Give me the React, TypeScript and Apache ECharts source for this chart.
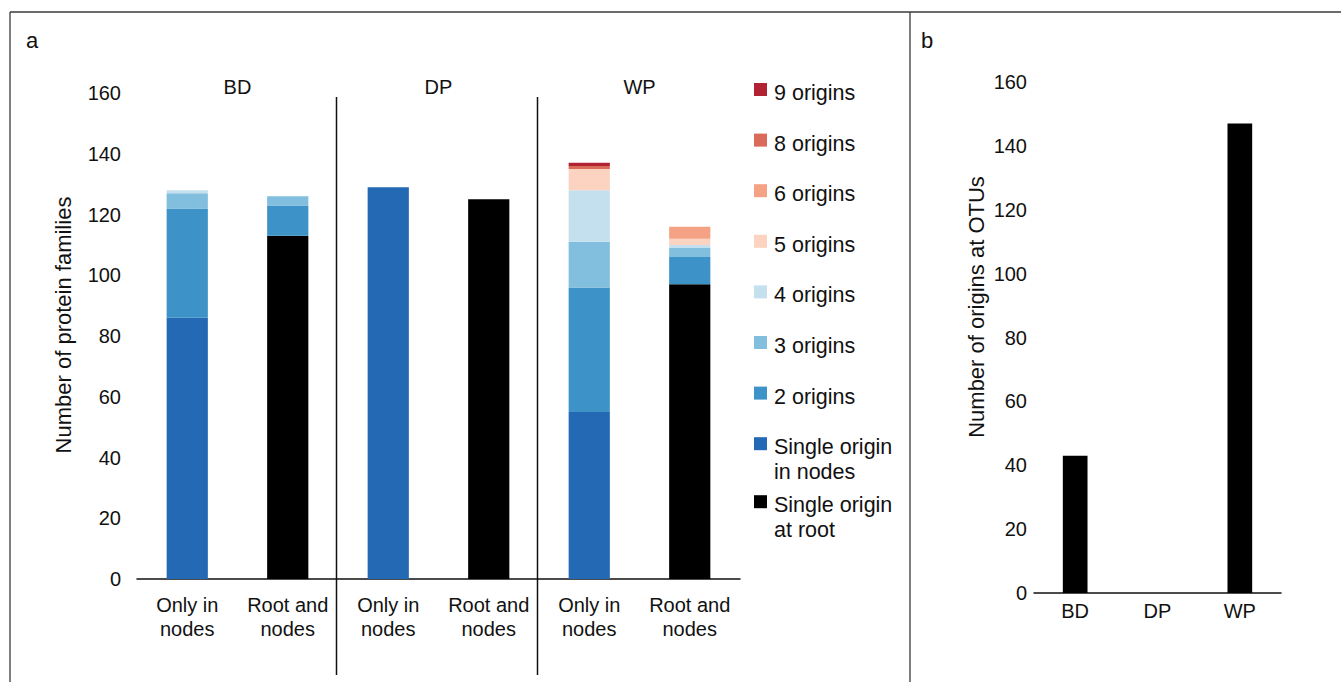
import React, { useEffect, useRef } from 'react';
import * as echarts from 'echarts';

// ---------- data: panel a ----------
const categoriesA = ['Only in\nnodes', 'Root and\nnodes', 'Only in\nnodes', 'Root and\nnodes', 'Only in\nnodes', 'Root and\nnodes'];
const groupsA = ['BD', 'DP', 'WP'];
const rootSingle = [0, 113, 0, 125, 0, 97];
const nodeSingle = [86, 0, 129, 0, 55, 0];
const origins2 = [36, 10, 0, 0, 41, 9];
const origins3 = [5, 3, 0, 0, 15, 3];
const origins4 = [1, 0, 0, 0, 17, 1];
const origins5 = [0, 0, 0, 0, 7, 2];
const origins6 = [0, 0, 0, 0, 0, 4];
const origins8 = [0, 0, 0, 0, 1, 0];
const origins9 = [0, 0, 0, 0, 1, 0];

// ---------- data: panel b ----------
const categoriesB = ['BD', 'DP', 'WP'];
const otuOrigins = [43, 0, 147];

const seriesA = [
  { name: 'Single origin\nat root', data: rootSingle, color: '#000000' },
  { name: 'Single origin\nin nodes', data: nodeSingle, color: '#2369b3' },
  { name: '2 origins', data: origins2, color: '#3d93c7' },
  { name: '3 origins', data: origins3, color: '#82bede' },
  { name: '4 origins', data: origins4, color: '#c4dfee' },
  { name: '5 origins', data: origins5, color: '#fcd3c0' },
  { name: '6 origins', data: origins6, color: '#f4a283' },
  { name: '8 origins', data: origins8, color: '#da6a59' },
  { name: '9 origins', data: origins9, color: '#b12333' },
];

const FONT = '"Liberation Sans", Arial, Helvetica, sans-serif';

export default function App() {
  const ref = useRef<HTMLDivElement>(null);
  useEffect(() => {
    document.body.style.margin = '0';
    const chart = echarts.init(ref.current!, undefined, { renderer: 'svg' });
    const gridA = { left: 137, right: 601, top: 93, bottom: 103 };
    const gridB = { left: 1034, right: 60, top: 82, bottom: 89 };
    const option: any = {
      animation: false,
      textStyle: { fontFamily: FONT },
      grid: [
        { ...gridA, outerBoundsMode: 'none', containLabel: false },
        { ...gridB, outerBoundsMode: 'none', containLabel: false },
      ],
      xAxis: [
        {
          type: 'category', gridIndex: 0, data: categoriesA,
          axisLine: { show: true, lineStyle: { color: '#111', width: 1.5 } },
          axisTick: { show: false },
          axisLabel: { color: '#111', fontSize: 20, fontFamily: FONT, lineHeight: 24, margin: 14, interval: 0 },
        },
        {
          type: 'category', gridIndex: 0, data: groupsA, position: 'top',
          axisLine: { show: false }, axisTick: { show: false },
          axisLabel: { color: '#111', fontSize: 20, fontFamily: FONT, margin: -4, interval: 0 },
        },
        {
          type: 'category', gridIndex: 1, data: categoriesB,
          axisLine: { show: true, lineStyle: { color: '#111', width: 1.5 } },
          axisTick: { show: false },
          axisLabel: { color: '#111', fontSize: 20, fontFamily: FONT, margin: 8, interval: 0 },
        },
      ],
      yAxis: [
        {
          type: 'value', gridIndex: 0, min: 0, max: 160, interval: 20,
          axisLine: { show: false }, axisTick: { show: false }, splitLine: { show: false },
          axisLabel: { color: '#111', fontSize: 20, fontFamily: FONT, margin: 16 },
        },
        {
          type: 'value', gridIndex: 1, min: 0, max: 160, interval: 20,
          axisLine: { show: false }, axisTick: { show: false }, splitLine: { show: false },
          axisLabel: { color: '#111', fontSize: 20, fontFamily: FONT, margin: 7 },
        },
      ],
      series: [
        ...seriesA.map((s) => ({
          type: 'bar', name: s.name, data: s.data, stack: 'a', xAxisIndex: 0, yAxisIndex: 0,
          barWidth: '41%', itemStyle: { color: s.color }, silent: true,
        })),
        {
          type: 'bar', name: 'OTU origins', data: otuOrigins, xAxisIndex: 2, yAxisIndex: 1,
          barWidth: '30%', itemStyle: { color: '#000' }, silent: true,
        },
      ],
    };
    chart.setOption(option);

    // dividers between groups, from axis positions
    const px = (i: number) => chart.convertToPixel({ xAxisIndex: 0 }, i) as number;
    const dividers = [1, 3].map((i) => (px(i) + px(i + 1)) / 2 - 1.5);

    const graphics: any[] = [];
    const frame = { stroke: '#3a3a3a', lineWidth: 1.3 };
    graphics.push({ type: 'line', shape: { x1: 10, y1: 12, x2: 1341, y2: 12 }, style: frame, silent: true });
    graphics.push({ type: 'line', shape: { x1: 10, y1: 12, x2: 10, y2: 682 }, style: frame, silent: true });
    graphics.push({ type: 'line', shape: { x1: 910, y1: 12, x2: 910, y2: 682 }, style: frame, silent: true });
    dividers.forEach((x) => {
      graphics.push({ type: 'line', shape: { x1: x, y1: 97, x2: x, y2: 675 }, style: { stroke: '#111', lineWidth: 1.5 }, silent: true });
    });
    graphics.push({ type: 'text', x: 26, y: 40, style: { text: 'a', font: `22px ${FONT}`, fill: '#111', verticalAlign: 'middle' } });
    graphics.push({ type: 'text', x: 921, y: 40, style: { text: 'b', font: `22px ${FONT}`, fill: '#111', verticalAlign: 'middle' } });
    graphics.push({
      type: 'text', x: 63, y: 325, rotation: Math.PI / 2,
      style: { text: 'Number of protein families', font: `22px ${FONT}`, fill: '#111', align: 'center', verticalAlign: 'middle' },
    });
    graphics.push({
      type: 'text', x: 976, y: 307, rotation: Math.PI / 2,
      style: { text: 'Number of origins at OTUs', font: `22px ${FONT}`, fill: '#111', align: 'center', verticalAlign: 'middle' },
    });
    // legend (top = last stacked)
    const legendItems = [...seriesA].reverse();
    let yc = 93;
    legendItems.forEach((s) => {
      graphics.push({ type: 'rect', shape: { x: 754, y: yc - 10, width: 13, height: 13 }, style: { fill: s.color }, silent: true });
      graphics.push({
        type: 'text', x: 774, y: yc - 12.5,
        style: { text: s.name, font: `21.5px ${FONT}`, fill: '#111', lineHeight: 25, verticalAlign: 'top', align: 'left' },
      });
      const lines = s.name.split('\n').length;
      yc += lines > 1 ? 58 : 50.6;
    });
    chart.setOption({ graphic: graphics });
    return () => chart.dispose();
  }, []);
  return <div ref={ref} style={{ width: 1341, height: 682 }} />;
}
